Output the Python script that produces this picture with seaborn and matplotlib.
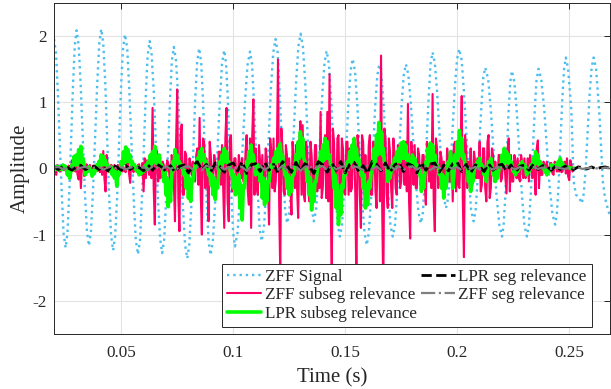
import numpy as np
import matplotlib
matplotlib.use("Agg")
import matplotlib.pyplot as plt
import seaborn as sns

# -----------------------------
# ZFF signal: hand-read points (peaks, troughs and points on the flanks)
# -----------------------------
zff_t = [
    0.0200, 0.0209, 0.0217, 0.0235, 0.0243,
    0.0252, 0.0260, 0.0268, 0.0285, 0.0293,
    0.0301, 0.0310, 0.0319, 0.0338, 0.0347,
    0.0356, 0.0365, 0.0374, 0.0393, 0.0402,
    0.0411, 0.0420, 0.0429, 0.0446, 0.0455,
    0.0464, 0.0473, 0.0482, 0.0499, 0.0508,
    0.0517, 0.0527, 0.0536, 0.0556, 0.0565,
    0.0575, 0.0584, 0.0592, 0.0610, 0.0618,
    0.0627, 0.0636, 0.0646, 0.0664, 0.0674,
    0.0683, 0.0692, 0.0700, 0.0718, 0.0726,
    0.0735, 0.0745, 0.0755, 0.0775, 0.0785,
    0.0795, 0.0804, 0.0813, 0.0830, 0.0839,
    0.0848, 0.0857, 0.0865, 0.0882, 0.0890,
    0.0899, 0.0909, 0.0919, 0.0940, 0.0950,
    0.0960, 0.0968, 0.0976, 0.0992, 0.1000,
    0.1008, 0.1019, 0.1030, 0.1053, 0.1064,
    0.1075, 0.1084, 0.1092, 0.1110, 0.1118,
    0.1127, 0.1137, 0.1148, 0.1168, 0.1179,
    0.1189, 0.1198, 0.1206, 0.1224, 0.1232,
    0.1241, 0.1251, 0.1261, 0.1281, 0.1291,
    0.1301, 0.1311, 0.1321, 0.1340, 0.1350,
    0.1360, 0.1370, 0.1379, 0.1398, 0.1408,
    0.1417, 0.1427, 0.1437, 0.1456, 0.1466,
    0.1476, 0.1486, 0.1495, 0.1514, 0.1524,
    0.1533, 0.1544, 0.1554, 0.1575, 0.1586,
    0.1596, 0.1605, 0.1615, 0.1633, 0.1643,
    0.1652, 0.1662, 0.1672, 0.1692, 0.1702,
    0.1712, 0.1722, 0.1732, 0.1751, 0.1761,
    0.1771, 0.1782, 0.1793, 0.1816, 0.1827,
    0.1838, 0.1847, 0.1855, 0.1873, 0.1881,
    0.1890, 0.1900, 0.1910, 0.1930, 0.1940,
    0.1950, 0.1960, 0.1970, 0.1989, 0.1999,
    0.2009, 0.2020, 0.2030, 0.2052, 0.2062,
    0.2073, 0.2082, 0.2090, 0.2108, 0.2116,
    0.2125, 0.2138, 0.2150, 0.2175, 0.2188,
    0.2200, 0.2207, 0.2215, 0.2229, 0.2237,
    0.2244, 0.2255, 0.2266, 0.2289, 0.2300,
    0.2311, 0.2320, 0.2328, 0.2346, 0.2354,
    0.2363, 0.2375, 0.2388, 0.2412, 0.2425,
    0.2437, 0.2445, 0.2453, 0.2469, 0.2477,
    0.2485, 0.2495, 0.2509, 0.2520, 0.2530, 0.2545,
    0.2556, 0.2565, 0.2574, 0.2591, 0.2600,
    0.2609, 0.2620, 0.2635, 0.2650, 0.2660, 0.2675, 0.2688,
]
zff_v = [
    1.95, 1.74, 1.16, -0.41, -0.99,
    -1.20, -0.98, -0.38, 1.26, 1.86,
    2.08, 1.86, 1.27, -0.36, -0.95,
    -1.17, -0.95, -0.35, 1.28, 1.88,
    2.10, 1.88, 1.27, -0.41, -1.02,
    -1.24, -1.02, -0.43, 1.21, 1.80,
    2.02, 1.80, 1.19, -0.47, -1.08,
    -1.30, -1.08, -0.50, 1.12, 1.70,
    1.92, 1.71, 1.12, -0.48, -1.07,
    -1.28, -1.07, -0.50, 1.05, 1.62,
    1.83, 1.62, 1.03, -0.56, -1.15,
    -1.36, -1.15, -0.57, 1.02, 1.60,
    1.81, 1.60, 1.03, -0.53, -1.10,
    -1.31, -1.10, -0.54, 1.01, 1.57,
    1.78, 1.58, 1.04, -0.44, -0.98,
    -1.18, -0.98, -0.45, 1.03, 1.56,
    1.76, 1.57, 1.05, -0.39, -0.91,
    -1.10, -0.90, -0.34, 1.19, 1.75,
    1.95, 1.76, 1.26, -0.14, -0.64,
    -0.83, -0.64, -0.12, 1.32, 1.84,
    2.03, 1.84, 1.32, -0.09, -0.61,
    -0.80, -0.63, -0.16, 1.13, 1.60,
    1.77, 1.58, 1.07, -0.33, -0.84,
    -1.03, -0.85, -0.36, 0.98, 1.47,
    1.65, 1.46, 0.95, -0.46, -0.97,
    -1.16, -0.98, -0.48, 0.89, 1.39,
    1.57, 1.40, 0.92, -0.38, -0.86,
    -1.03, -0.86, -0.38, 0.92, 1.40,
    1.57, 1.41, 0.97, -0.23, -0.67,
    -0.83, -0.66, -0.19, 1.11, 1.58,
    1.75, 1.59, 1.16, -0.01, -0.44,
    -0.60, -0.44, 0.00, 1.20, 1.64,
    1.80, 1.63, 1.15, -0.15, -0.63,
    -0.80, -0.64, -0.22, 0.94, 1.36,
    1.52, 1.35, 0.88, -0.39, -0.86,
    -1.03, -0.86, -0.41, 0.85, 1.30,
    1.47, 1.30, 0.85, -0.41, -0.86,
    -1.03, -0.86, -0.40, 0.87, 1.33,
    1.50, 1.34, 0.91, -0.26, -0.69,
    -0.85, -0.68, -0.22, 1.04, 1.50,
    1.67, 1.50, 0.90, -0.20, -0.40, -0.45,
    -0.53, -0.38, 0.02, 1.12, 1.52,
    1.67, 1.50, 0.80, -0.20, -0.45, -0.65, -0.75,
]

# -----------------------------
# Subsegment relevance: main swing at each 1 ms step from 0.020 s,
# and the opposite swing half a step later
# -----------------------------
zff_subseg = [
    0.06, -0.10, 0.03, -0.04, 0.02, 0.04, -0.05, 0.03, 0.12, 0.15,
    0.05, -0.17, -0.30, 0.08, -0.05, 0.03, 0.05, -0.03, 0.04, 0.02,
    0.08, 0.15, 0.26, -0.35, 0.05, -0.04, 0.03, 0.05, -0.05, 0.03,
    0.04, 0.02, -0.06, 0.10, -0.22, 0.05, 0.03, -0.04, 0.06, -0.10,
    -0.35, -0.15, 0.05, 0.20, 0.91, -0.85, 0.25, 0.10, -0.12, 0.05,
    -0.10, 0.08, -0.30, 0.15, -0.80, 1.19, -0.95, 0.66, -0.40, 0.20,
    -0.15, 0.05, 0.10, -0.20, 0.30, 0.76, -1.00, 0.40, 0.15, -0.80,
    0.20, -0.25, 0.10, -0.30, 0.25, 0.35, -0.90, 0.91, -0.80, 0.50,
    -0.10, 0.15, -0.20, 0.05, 0.15, -0.20, 0.50, -0.55, -0.90, 1.04,
    0.30, -0.40, 0.10, 0.20, -0.30, 0.15, -0.85, 0.25, 0.45, -0.20,
    1.64, -1.60, 0.30, -0.40, 0.20, 0.15, -0.70, 0.10, 0.35, -0.75,
    0.71, 0.65, -0.50, 0.30, -0.50, 0.20, -0.40, 0.35, 0.10, 0.85,
    -0.30, 0.50, 0.85, 1.42, -1.60, 0.40, -0.60, 0.50, -0.50, 0.30,
    -0.40, 0.40, 0.30, -0.30, 0.35, -1.75, 0.30, -0.90, 0.40, 0.20,
    -0.30, 0.50, -0.40, 0.30, -0.60, 0.60, 1.70, -1.90, 0.45, -0.60,
    0.25, -0.60, 0.20, -0.40, 0.30, -0.20, 0.20, 0.40, 0.97, -1.06,
    0.20, 0.35, -0.30, 0.20, -0.15, 0.20, -0.55, 0.15, 0.30, 1.12,
    -0.95, 0.30, -0.20, 0.15, 0.10, -0.30, 0.15, -0.20, -0.50, 0.40,
    0.20, -0.30, 1.09, -1.34, 0.30, 0.10, 0.30, -0.20, 0.10, 0.15,
    0.40, -0.25, 0.30, -0.50, 0.50, -0.30, 0.20, 0.10, -0.15, 0.20,
    -0.15, 0.10, -0.38, 0.45, 0.20, -0.20, 0.10, 0.15, -0.20, 0.10,
    0.15, -0.10, -0.20, 0.10, 0.05, -0.40, 0.42, 0.10, -0.10, 0.05,
    0.10, -0.05, 0.08, -0.10, 0.05, 0.03, 0.08, -0.05, 0.10, 0.15,
    -0.18, 0.05, 0.00,
]
zff_subseg_b = [
    -0.04, 0.05, -0.05, 0.03, -0.03, -0.02, 0.04, -0.04, -0.03, -0.05,
    -0.10, 0.10, 0.08, -0.12, 0.06, -0.04, -0.03, 0.04, -0.05, -0.04,
    -0.06, -0.10, -0.15, 0.20, -0.06, 0.05, -0.05, -0.04, 0.05, -0.04,
    -0.05, -0.04, 0.08, -0.08, 0.12, -0.06, -0.04, 0.05, -0.06, 0.08,
    0.15, 0.12, -0.10, -0.15, -0.30, 0.30, -0.20, -0.15, 0.10, -0.08,
    0.12, -0.10, 0.20, -0.20, 0.40, -0.45, 0.50, -0.40, 0.25, -0.20,
    0.15, -0.10, -0.15, 0.20, -0.25, -0.40, 0.45, -0.30, -0.20, 0.40,
    -0.20, 0.20, -0.15, 0.25, -0.25, -0.30, 0.45, -0.50, 0.45, -0.35,
    0.15, -0.20, 0.20, -0.15, -0.20, 0.25, -0.35, 0.45, 0.50, -0.40,
    -0.30, 0.35, -0.20, -0.25, 0.30, -0.25, 0.45, -0.30, -0.35, 0.30,
    -0.50, 0.60, -0.35, 0.35, -0.30, -0.25, 0.40, -0.30, -0.30, 0.40,
    -0.40, -0.40, 0.40, -0.35, 0.40, -0.30, 0.35, -0.35, -0.30, -0.45,
    0.35, -0.45, -0.50, -0.60, 0.60, -0.40, 0.45, -0.45, 0.45, -0.35,
    0.40, -0.40, -0.35, 0.35, -0.40, 0.50, -0.40, 0.50, -0.40, -0.30,
    0.35, -0.40, 0.40, -0.35, 0.45, -0.50, -0.60, 0.60, -0.40, 0.45,
    -0.30, 0.45, -0.30, 0.35, -0.30, 0.25, -0.25, -0.35, -0.50, 0.40,
    -0.25, -0.30, 0.30, -0.25, 0.20, -0.25, 0.40, -0.20, -0.30, -0.50,
    0.45, -0.30, 0.25, -0.20, -0.15, 0.30, -0.20, 0.25, 0.35, -0.35,
    -0.25, 0.30, -0.50, 0.50, -0.30, -0.15, -0.30, 0.25, -0.15, -0.15,
    -0.35, 0.30, -0.30, 0.40, -0.45, 0.30, -0.20, -0.15, 0.20, -0.20,
    0.20, -0.15, 0.30, -0.35, -0.20, 0.20, -0.15, -0.15, 0.20, -0.15,
    -0.15, 0.15, 0.20, -0.15, -0.10, 0.30, -0.30, -0.10, 0.10, -0.08,
    -0.08, 0.08, -0.08, 0.10, -0.05, -0.05, -0.06, 0.05, -0.08, -0.12,
    0.12, -0.05, 0.00,
]
lpr_subseg = [
    0.03, 0.02, -0.03, 0.02, 0.05, 0.03, -0.10, -0.15, 0.05, 0.18,
    0.20, 0.28, 0.33, 0.15, -0.10, -0.05, -0.02, -0.12, -0.08, 0.05,
    0.10, 0.20, 0.18, 0.12, 0.05, -0.05, -0.10, -0.15, -0.27, -0.10,
    0.10, 0.25, 0.32, 0.28, 0.20, 0.10, 0.05, -0.05, -0.10, -0.08,
    -0.05, 0.05, 0.10, 0.20, 0.25, 0.33, 0.15, 0.20, 0.05, -0.20,
    -0.40, -0.58, -0.50, 0.10, 0.28, 0.20, 0.10, 0.05, -0.10, -0.30,
    -0.45, -0.50, -0.20, 0.05, 0.15, 0.25, 0.30, 0.20, 0.10, -0.10,
    -0.25, -0.40, -0.47, -0.30, 0.10, 0.20, 0.30, 0.25, 0.10, -0.10,
    -0.30, -0.40, -0.35, -0.60, -0.78, -0.30, 0.10, 0.25, 0.35, 0.20,
    -0.10, 0.05, -0.20, -0.45, -0.55, -0.50, -0.20, 0.05, 0.15, 0.25,
    0.30, 0.37, 0.20, -0.10, -0.30, -0.40, -0.35, -0.10, 0.20, 0.40,
    0.55, 0.45, 0.10, -0.20, -0.40, -0.63, -0.50, -0.20, 0.10, 0.25,
    0.35, 0.45, 0.40, 0.20, 0.05, -0.30, -0.60, -0.85, -0.70, -0.30,
    -0.10, 0.10, 0.25, 0.35, 0.45, 0.30, 0.15, -0.10, -0.30, -0.60,
    -0.55, -0.30, 0.10, 0.30, 0.50, 0.69, 0.55, 0.30, 0.05, -0.20,
    -0.15, 0.05, 0.15, 0.25, 0.30, 0.38, 0.40, 0.35, 0.20, 0.10,
    0.20, 0.15, 0.05, -0.10, -0.35, -0.30, 0.10, 0.30, 0.38, 0.35,
    0.20, 0.05, -0.10, -0.30, -0.45, -0.30, 0.10, 0.25, -0.30, 0.20,
    0.40, 0.57, 0.45, 0.20, 0.05, -0.20, -0.35, -0.20, 0.05, 0.10,
    0.15, 0.05, -0.10, -0.20, 0.10, 0.15, -0.10, -0.20, -0.15, 0.05,
    0.20, 0.30, 0.25, 0.20, 0.10, -0.05, -0.10, -0.05, 0.05, 0.10,
    0.05, -0.10, -0.05, 0.05, 0.15, 0.25, 0.20, 0.10, 0.05, -0.05,
    -0.10, -0.05, 0.05, 0.03, 0.05, 0.10, 0.15, 0.08, 0.03, 0.02,
    0.01, 0.00, 0.00,
]
lpr_subseg_b = [
    -0.02, 0.03, 0.02, -0.02, 0.01, -0.02, -0.02, -0.05, -0.03, 0.05,
    0.05, 0.10, 0.08, 0.03, -0.02, 0.02, -0.05, -0.03, -0.02, -0.02,
    0.03, 0.05, 0.06, 0.03, -0.02, 0.02, -0.03, -0.05, -0.10, -0.03,
    0.03, 0.08, 0.10, 0.10, 0.05, 0.02, -0.02, 0.02, -0.04, -0.02,
    0.02, -0.02, 0.03, 0.05, 0.10, 0.08, 0.05, 0.03, -0.02, -0.05,
    -0.15, -0.20, -0.15, -0.02, 0.10, 0.05, 0.02, -0.02, -0.03, -0.10,
    -0.15, -0.20, -0.05, 0.02, 0.05, 0.10, 0.12, 0.05, 0.02, -0.03,
    -0.10, -0.15, -0.20, -0.10, 0.03, 0.08, 0.10, 0.08, 0.02, -0.03,
    -0.10, -0.15, -0.10, -0.25, -0.30, -0.10, 0.03, 0.10, 0.12, 0.05,
    -0.03, 0.02, -0.05, -0.15, -0.20, -0.20, -0.05, 0.02, 0.05, 0.10,
    0.10, 0.12, 0.05, -0.03, -0.10, -0.15, -0.10, -0.02, 0.05, 0.15,
    0.20, 0.15, 0.03, -0.05, -0.15, -0.25, -0.20, -0.05, 0.03, 0.08,
    0.12, 0.15, 0.15, 0.05, -0.02, -0.10, -0.25, -0.35, -0.25, -0.10,
    -0.03, 0.03, 0.08, 0.12, 0.15, 0.10, 0.05, -0.03, -0.10, -0.25,
    -0.20, -0.10, 0.03, 0.10, 0.20, 0.25, 0.20, 0.10, 0.02, -0.05,
    -0.05, 0.02, 0.05, 0.10, 0.10, 0.15, 0.15, 0.12, 0.05, 0.03,
    0.05, 0.05, 0.02, -0.03, -0.12, -0.10, 0.03, 0.10, 0.12, 0.12,
    0.05, 0.02, -0.03, -0.10, -0.15, -0.10, 0.03, 0.08, -0.10, 0.05,
    0.15, 0.20, 0.15, 0.05, 0.02, -0.05, -0.12, -0.05, 0.02, 0.03,
    0.05, 0.02, -0.03, -0.05, 0.03, 0.05, -0.03, -0.05, -0.05, 0.02,
    0.05, 0.10, 0.08, 0.05, 0.03, -0.02, -0.03, -0.02, 0.02, 0.03,
    0.02, -0.03, -0.02, 0.02, 0.05, 0.08, 0.05, 0.03, 0.02, -0.02,
    -0.03, -0.02, 0.02, 0.01, 0.02, 0.03, 0.05, 0.03, 0.01, 0.01,
    0.00, 0.00, 0.00,
]

# -----------------------------
# Segment relevance, 2 ms samples from 0.020 s
# -----------------------------
lpr_seg = [
    0.02, -0.02, 0.03, 0.01, -0.03, 0.02, 0.04, -0.02, 0.01, 0.03,
    -0.02, 0.03, -0.04, 0.05, 0.02, -0.03, 0.04, -0.02, 0.03, 0.01,
    -0.04, 0.05, -0.03, 0.06, 0.02, -0.05, 0.04, -0.06, 0.03, 0.05,
    -0.07, 0.04, 0.10, -0.03, 0.06, -0.05, 0.08, 0.03, -0.06, 0.05,
    0.08, -0.04, 0.10, -0.08, 0.05, 0.07, -0.05, 0.09, -0.03, 0.06,
    -0.07, 0.10, 0.04, -0.06, 0.09, -0.04, 0.07, 0.03, -0.08, 0.10,
    0.05, -0.06, 0.08, -0.03, 0.10, -0.07, 0.06, 0.09, -0.05, 0.04,
    -0.08, 0.10, 0.06, -0.04, 0.08, -0.06, 0.05, 0.09, -0.05, 0.07,
    0.04, -0.07, 0.09, -0.03, 0.06, 0.08, -0.06, 0.05, -0.04, 0.07,
    0.09, -0.05, 0.06, -0.07, 0.05, 0.03, -0.05, 0.07, -0.03, 0.04,
    0.06, -0.04, 0.05, -0.06, 0.03, 0.05, -0.03, 0.06, -0.02, 0.04,
    0.03, -0.03, 0.04, -0.02, 0.03, 0.01, -0.02, 0.02, 0.01, -0.01,
    0.02, -0.01, 0.01, 0.02, 0.00,
]
zff_seg = [
    0.01, 0.02, -0.01, 0.00, 0.02, -0.02, 0.01, 0.02, -0.01, 0.01,
    0.02, -0.02, 0.01, 0.03, -0.01, 0.02, -0.02, 0.01, 0.02, -0.01,
    0.02, -0.03, 0.03, 0.01, -0.02, 0.03, -0.01, 0.02, -0.03, 0.02,
    0.03, -0.02, 0.02, -0.03, 0.04, 0.01, -0.02, 0.03, -0.02, 0.02,
    -0.03, 0.03, 0.02, -0.04, 0.03, -0.01, 0.04, -0.03, 0.02, 0.03,
    -0.02, 0.04, -0.03, 0.02, 0.03, -0.04, 0.02, 0.04, -0.02, 0.03,
    0.03, -0.03, 0.04, -0.02, 0.02, 0.03, -0.04, 0.03, 0.01, -0.03,
    0.04, -0.02, 0.03, -0.03, 0.02, 0.04, -0.02, 0.03, -0.03, 0.02,
    0.03, -0.02, 0.02, 0.03, -0.03, 0.02, 0.01, -0.02, 0.03, -0.01,
    0.02, -0.03, 0.03, -0.01, 0.02, -0.02, 0.03, 0.01, -0.02, 0.02,
    -0.01, 0.02, 0.01, -0.02, 0.02, -0.01, 0.01, 0.02, -0.01, 0.01,
    0.01, -0.01, 0.02, 0.00, -0.01, 0.01, 0.00, 0.01, -0.01, 0.00,
    0.01, 0.00, -0.01, 0.01, 0.00,
]

x_ticks = [0.05, 0.1, 0.15, 0.2, 0.25]
x_labels = ["0.05", "0.1", "0.15", "0.2", "0.25"]
y_ticks = [-2, -1, 0, 1, 2]
y_labels = ["-2", "-1", "0", "1", "2"]

# sample times
t_sub = np.round(0.020 + 0.001 * np.arange(len(zff_subseg)), 4)
t_seg = np.round(0.020 + 0.002 * np.arange(len(lpr_seg)), 4)

# main swing then opposite swing, half a step apart
t_sub2 = np.column_stack([t_sub, t_sub + 0.0005]).ravel()
zff_sub2 = np.column_stack([zff_subseg, zff_subseg_b]).ravel()
lpr_sub2 = np.column_stack([lpr_subseg, lpr_subseg_b]).ravel()

# -----------------------------
# Style
# -----------------------------
sns.set_theme(style="whitegrid")
plt.rcParams['font.family'] = ['Liberation Serif', 'DejaVu Serif']
plt.rcParams['axes.unicode_minus'] = False

dark = "#262626"

fig = plt.figure(figsize=(6.11, 3.89), dpi=100)
ax = fig.add_axes([54 / 611, 55 / 389, 556 / 611, 331.5 / 389])

sns.lineplot(x=zff_t, y=zff_v, ax=ax, color="#4DBEEE", linestyle=":",
             linewidth=1.7, label="ZFF Signal", sort=False, estimator=None)
sns.lineplot(x=t_sub2, y=zff_sub2, ax=ax, color="#FF0066",
             linewidth=1.5, label="ZFF subseg relevance", sort=False, estimator=None)
sns.lineplot(x=t_sub2, y=lpr_sub2, ax=ax, color="#00FF00",
             linewidth=2.6, label="LPR subseg relevance", sort=False, estimator=None)
sns.lineplot(x=t_seg, y=lpr_seg, ax=ax, color="black", linestyle="--",
             linewidth=2.0, label="LPR seg relevance", sort=False, estimator=None)
sns.lineplot(x=t_seg, y=zff_seg, ax=ax, color="#808080", linestyle="-.",
             linewidth=1.6, label="ZFF seg relevance", sort=False, estimator=None)

ax.set_xlim(0.02, 0.2682)
ax.set_ylim(-2.5, 2.5)
ax.set_xticks(x_ticks)
ax.set_xticklabels(x_labels)
ax.set_yticks(y_ticks)
ax.set_yticklabels(y_labels)

ax.grid(True, color="#e3e3e3", linewidth=0.8)
for s in ax.spines.values():
    s.set_visible(True)
    s.set_color(dark)
    s.set_linewidth(0.7)
ax.tick_params(direction="in", top=True, right=True, length=4, width=0.7,
               color=dark, labelcolor=dark, labelsize=12.3)
ax.tick_params(axis="x", pad=8)
ax.tick_params(axis="y", pad=5)

ax.set_xlabel("Time (s)", fontsize=15, color=dark, labelpad=5)
ax.set_ylabel("Amplitude", fontsize=15, color=dark, labelpad=2)

leg = ax.legend(ncol=2, loc="lower right", bbox_to_anchor=(0.9676, 0.021),
                fontsize=12.3, frameon=True, fancybox=False, framealpha=1,
                edgecolor=dark, borderpad=0.3, labelspacing=0.15,
                handlelength=2.0, handletextpad=0.2, columnspacing=0.25,
                borderaxespad=0)
leg.get_frame().set_linewidth(0.7)

plt.savefig("out.png", dpi=100)
